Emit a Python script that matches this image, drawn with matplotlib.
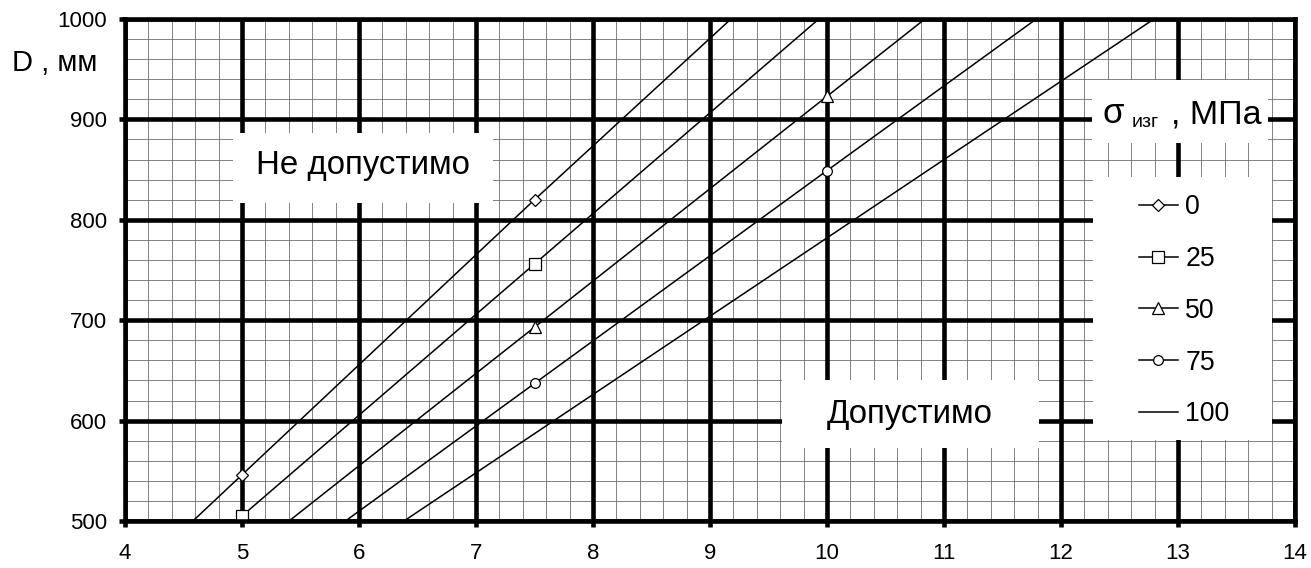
import matplotlib.pyplot as plt
from matplotlib.patches import Rectangle
from matplotlib.ticker import MultipleLocator

plt.rcParams['font.family'] = ['Liberation Sans', 'DejaVu Sans']

# stress values (legend) and curve points D(x)
x_vals = [2.5, 5, 7.5, 10, 12.5, 15]
d_0 = [272, 546, 820, 1088, 1355, 1622]
d_25 = [254, 505, 756, 1007, 1258, 1509]
d_50 = [233, 463, 693, 923, 1153, 1383]
d_75 = [213, 425, 637, 849, 1060, 1270]
d_100 = [197, 392, 587, 782, 977, 1172]
labels = ['0', '25', '50', '75', '100']
markers = ['D', 's', '^', 'o', None]
msizes = [6, 8, 8, 7, 0]

x_ticks = list(range(4, 15))
y_ticks = list(range(500, 1001, 100))

W, H = 1311, 568
fig = plt.figure(figsize=(W / 100, H / 100), dpi=100)
ax = fig.add_axes([125 / W, 1 - 521 / H, 1170 / W, 502 / H])


def fx(px):
    return px / W


def fy(py):
    return 1 - py / H


series = [d_0, d_25, d_50, d_75, d_100]
handles = []
for ys, lab, m, ms in zip(series, labels, markers, msizes):
    h, = ax.plot(x_vals, ys, color='black', lw=1.1, marker=m, ms=ms,
                 mfc='white', mec='black', mew=0.9, label=lab, zorder=3)
    handles.append(h)

ax.set_xlim(4, 14)
ax.set_ylim(500, 1000)
ax.set_xticks(x_ticks)
ax.set_yticks(y_ticks)
ax.xaxis.set_minor_locator(MultipleLocator(0.2))
ax.yaxis.set_minor_locator(MultipleLocator(20))
ax.set_axisbelow(True)
ax.grid(which='minor', color='#6e6e6e', lw=0.6)
for v in x_ticks:
    ax.axvline(v, color='black', lw=3.3, zorder=0.8)
for v in y_ticks:
    ax.axhline(v, color='black', lw=3.3, zorder=0.8)

for s in ax.spines.values():
    s.set_linewidth(3.3)
    s.set_zorder(4)
ax.tick_params(which='major', direction='out', length=4, width=3.3,
               labelsize=16, top=False, right=False)
ax.tick_params(which='minor', length=0)
ax.tick_params(axis='x', pad=12)
ax.tick_params(axis='y', pad=9)

# white boxes behind the annotations
boxes = [(233, 133, 493, 203), (782, 380, 1039, 448),
         (1092, 80, 1268, 143), (1093, 177, 1272, 440)]
for x0, y0, x1, y1 in boxes:
    ax.add_artist(Rectangle((fx(x0), fy(y1)), (x1 - x0) / W, (y1 - y0) / H,
                            transform=fig.transFigure, facecolor='white',
                            edgecolor='none', zorder=1, clip_on=False))

fig.text(fx(363), fy(166), 'Не допустимо', fontsize=23.8, ha='center', va='center')
fig.text(fx(910), fy(414), 'Допустимо', fontsize=23.8, ha='center', va='center')
fig.text(fx(55), fy(63), 'D , мм', fontsize=21, ha='center', va='center')

# legend title: sigma with subscript
fig.text(fx(1102), fy(123), 'σ', fontsize=25, ha='left', va='baseline')
fig.text(fx(1132), fy(127), 'изг', fontsize=14, ha='left', va='baseline')
fig.text(fx(1171), fy(123), ', МПа', fontsize=24.5, ha='left', va='baseline')

ax.legend(handles, labels, loc='upper left',
          bbox_to_anchor=(fx(1139), fy(194)), bbox_transform=fig.transFigure,
          frameon=False, borderpad=0, borderaxespad=0, handlelength=1.45,
          handletextpad=0.28, labelspacing=0.97, fontsize=19.2)

plt.savefig('out.png', dpi=100)
